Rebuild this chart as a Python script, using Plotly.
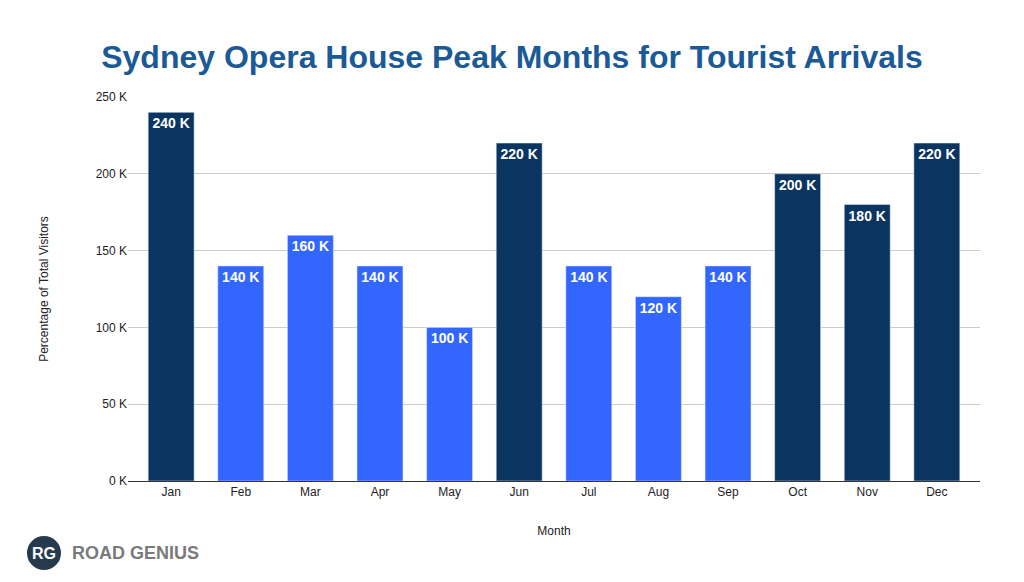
import plotly.graph_objects as go

months = ["Jan","Feb","Mar","Apr","May","Jun","Jul","Aug","Sep","Oct","Nov","Dec"]
visitors = [240000,140000,160000,140000,100000,220000,140000,120000,140000,200000,180000,220000]
labels = ["240 K","140 K","160 K","140 K","100 K","220 K","140 K","120 K","140 K","200 K","180 K","220 K"]
peak = [True,False,False,False,False,True,False,False,False,True,True,True]

DARK = "#0B3561"
BLUE = "#3366FF"
colors = [DARK if p else BLUE for p in peak]
F = "Liberation Sans, Arial, sans-serif"

fig = go.Figure(go.Bar(
    x=months, y=visitors, text=labels, marker_color=colors, width=0.66,
    textposition="inside", insidetextanchor="end", textangle=0,
    textfont=dict(family=F, size=14, color="white", weight="bold"),
    cliponaxis=False,
))
fig.update_layout(
    width=1024, height=582, paper_bgcolor="white", plot_bgcolor="white",
    margin=dict(l=128, r=44, t=97, b=101),
    title=dict(text="<b>Sydney Opera House Peak Months for Tourist Arrivals</b>",
               x=0.5, xanchor="center", y=0.902, yanchor="middle",
               font=dict(family=F, size=32, color="#1B5A96")),
    font=dict(family=F, size=12, color="#222"),
    showlegend=False,
    xaxis=dict(title=dict(text="Month", font=dict(size=12), standoff=28),
               range=[-0.62, 11.62],
               tickfont=dict(size=12), showline=True, linecolor="#333", ticks=""),
    yaxis=dict(title=dict(text="Percentage of Total Visitors", font=dict(size=12), standoff=44),
               range=[0,250000], tickvals=[0,50000,100000,150000,200000,250000],
               ticktext=["0 K","50 K","100 K","150 K","200 K","250 K"],
               gridcolor="#CCCCCC", zeroline=False, ticks="", ticklen=0, tickfont=dict(size=12)),
)
fig.add_shape(type="circle", xref="paper", yref="paper", xsizemode="pixel", ysizemode="pixel",
              xanchor=-0.0986, yanchor=-0.1875, x0=-16, x1=16, y0=-16, y1=16, layer="below",
              fillcolor="#263A4D", line=dict(color="#263A4D"))
fig.add_annotation(xref="paper", yref="paper", x=-0.0986, y=-0.1875, text="<b>RG</b>",
                   xanchor="center", yanchor="middle",
                   showarrow=False, font=dict(family=F, size=16, color="white"))
fig.add_annotation(xref="paper", yref="paper", x=-0.068, y=-0.1875, xanchor="left", yanchor="middle",
                   text="<b>ROAD GENIUS</b>", showarrow=False,
                   font=dict(family=F, size=18, color="#7A7A7A"))
fig.write_html("out.html", config={"displayModeBar": False},
               post_script="document.body.style.margin='0';")
